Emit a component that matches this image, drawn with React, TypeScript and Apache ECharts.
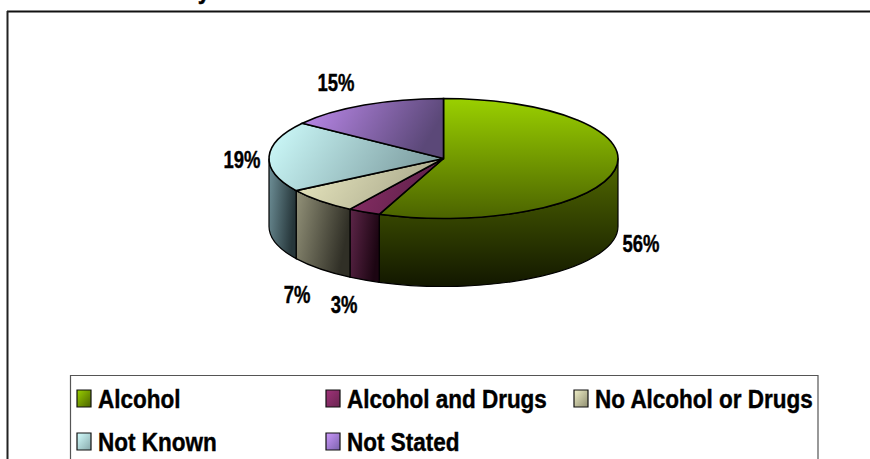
import React, { useEffect, useRef } from "react";
import * as echarts from "echarts";

const categories = ["Alcohol", "Alcohol and Drugs", "No Alcohol or Drugs", "Not Known", "Not Stated"];
const shares = [56, 3, 7, 19, 15];

const topStops = [
  ["#9ad000", "#4b6300"],
  ["#8c2f68", "#5e2049"],
  ["#ecebc2", "#aaa98c"],
  ["#cffdfd", "#7f9fa2"],
  ["#c08cf0", "#5b4878"],
];
const wallStops = [
  ["#526a00", "#121700"],
  ["#5e2649", "#1c0512"],
  ["#939279", "#302f26"],
  ["#70929a", "#26363a"],
  ["#5b4878", "#2b2238"],
];
const swatchStops = [
  ["#9ad000", "#4b6300"],
  ["#a0337a", "#6a2450"],
  ["#f0efc8", "#8f8e70"],
  ["#d4ffff", "#86a8aa"],
  ["#cc98fc", "#7a62ac"],
];

// Screen placement of the disc and its labels.
const CX = 443.5;
const CY = 158.5;
const RX = 174.5;
const RY = 60;
const DEPTH = 68;
const labelAnchors = [
  [641, 244],
  [344, 305],
  [297, 295],
  [242, 160],
  [336, 83],
];
const legendColumns = [77, 326, 574];
const legendRows = [390, 433];

const FONT = '"Liberation Sans", Arial, sans-serif';
const total = shares.reduce((a, b) => a + b, 0);

// Angles run clockwise from twelve o'clock, in radians.
function sliceAngles(index: number) {
  const before = shares.slice(0, index).reduce((a, b) => a + b, 0);
  return [(before / total) * Math.PI * 2, ((before + shares[index]) / total) * Math.PI * 2];
}
const px = (a: number) => CX + RX * Math.sin(a);
const py = (a: number, drop = 0) => CY - RY * Math.cos(a) + drop;

function topPath(a0: number, a1: number) {
  const large = a1 - a0 > Math.PI ? 1 : 0;
  return `M ${CX} ${CY} L ${px(a0)} ${py(a0)} A ${RX} ${RY} 0 ${large} 1 ${px(a1)} ${py(a1)} Z`;
}

function wallPath(a0: number, a1: number) {
  return (
    `M ${px(a0)} ${py(a0)} A ${RX} ${RY} 0 0 1 ${px(a1)} ${py(a1)} ` +
    `L ${px(a1)} ${py(a1, DEPTH)} A ${RX} ${RY} 0 0 0 ${px(a0)} ${py(a0, DEPTH)} Z`
  );
}

function gradient(stops: string[], x2: number, y2: number) {
  return new echarts.graphic.LinearGradient(0, 0, x2, y2, [
    { offset: 0, color: stops[0] },
    { offset: 1, color: stops[1] },
  ]);
}

function renderWall(params: any) {
  const i = params.dataIndex;
  const [start, end] = sliceAngles(i);
  // Only the near half of the rim faces the viewer.
  const a0 = Math.max(start, Math.PI / 2);
  const a1 = Math.min(end, (Math.PI * 3) / 2);
  if (a1 <= a0) return null;
  return {
    type: "path",
    shape: { pathData: wallPath(a0, a1) },
    style: {
      fill: i === 0 ? gradient(wallStops[i], 0, 1) : gradient(wallStops[i], 1, 0.3),
      stroke: "#000",
      lineWidth: 1.2,
    },
  };
}

function renderTop(params: any) {
  const i = params.dataIndex;
  const [start, end] = sliceAngles(i);
  return {
    type: "path",
    shape: { pathData: topPath(start, end) },
    style: {
      fill: i === 0 ? gradient(topStops[i], 0, 1) : gradient(topStops[i], 1, 0.25),
      stroke: "#000",
      lineWidth: 1.6,
    },
  };
}

function boldText(x: number, y: number, text: string, size: number, scaleX: number, align: string) {
  return {
    type: "text",
    x,
    y,
    scaleX,
    silent: true,
    style: {
      text,
      fontFamily: FONT,
      fontWeight: "bold",
      fontSize: size,
      fill: "#000",
      stroke: "#000",
      lineWidth: 0.4,
      align,
      verticalAlign: "middle",
    },
  };
}

function legendElements() {
  const out: any[] = [];
  categories.forEach((name, i) => {
    const x = legendColumns[i % 3];
    const y = legendRows[Math.floor(i / 3)];
    out.push({
      type: "rect",
      shape: { x, y, width: 14, height: 17 },
      style: { fill: gradient(swatchStops[i], 1, 1), stroke: "#111", lineWidth: 1.2 },
    });
    out.push(boldText(x + 21, y + 9, name, 25, 0.9, "left"));
  });
  return out;
}

export default function App() {
  const ref = useRef<HTMLDivElement>(null);

  useEffect(() => {
    document.body.style.margin = "0";
    const chart = echarts.init(ref.current!, null, { renderer: "svg" });
    chart.setOption({
      animation: false,
      backgroundColor: "#fff",
      series: [
        { type: "custom", coordinateSystem: "none", renderItem: renderWall, data: shares, z: 2, silent: true },
        { type: "custom", coordinateSystem: "none", renderItem: renderTop, data: shares, z: 3, silent: true },
      ],
      graphic: [
        // Frame of the chart area, running off the right and bottom of the page.
        { type: "line", shape: { x1: 7, y1: 11.5, x2: 870, y2: 11.5 }, style: { stroke: "#111", lineWidth: 2 } },
        { type: "line", shape: { x1: 7.5, y1: 11, x2: 7.5, y2: 459 }, style: { stroke: "#222", lineWidth: 2 } },
        // Legend box, open at the page's lower edge.
        {
          type: "polyline",
          shape: { points: [[70.5, 459], [70.5, 375.5], [818, 375.5], [818, 459]] },
          style: { stroke: "#555", lineWidth: 1.2, fill: "none" },
        },
        ...legendElements(),
        ...shares.map((v, i) =>
          boldText(labelAnchors[i][0], labelAnchors[i][1], `${v}%`, 24, 0.77, "center")
        ),
        // Tail of the heading, which is cut off by the top of the page.
        boldText(204, -10, "y", 25, 0.9, "center"),
      ],
    });
    return () => chart.dispose();
  }, []);

  return <div ref={ref} style={{ width: 870, height: 459 }} />;
}
